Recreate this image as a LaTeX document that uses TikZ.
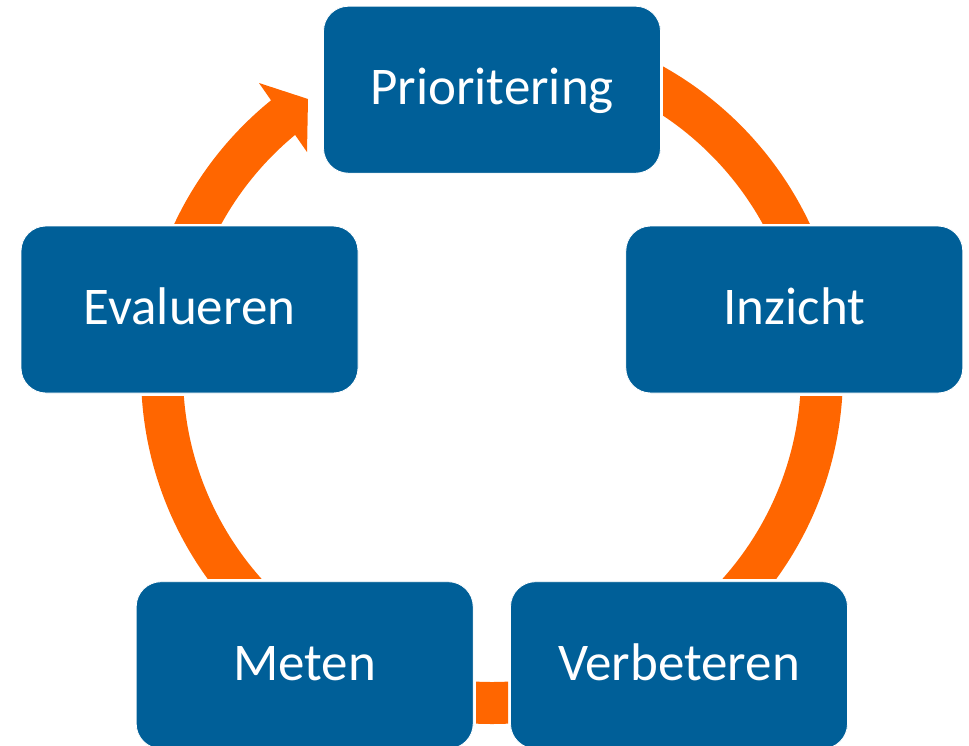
\documentclass[tikz,border=0pt]{standalone}
\usepackage{fontspec}
\setmainfont{Carlito}
\definecolor{boxblue}{RGB}{0,95,152}
\definecolor{ringorange}{RGB}{255,102,0}
\begin{document}
\begin{tikzpicture}[x=1pt,y=1pt,
  stepbox/.style={draw=white, line width=0.8pt, fill=boxblue, rounded corners=25pt,
    minimum width=337pt, minimum height=167pt, inner sep=0pt, text=white,
    font=\fontsize{53}{60}\selectfont, text height=30pt, text depth=0pt},
  ring/.style={fill=ringorange, even odd rule}]
\useasboundingbox (0,0) rectangle (969,-745);
\coordinate (c) at (492,-373);
% ring segments
\begin{scope}
  \clip (663,0) rectangle (969,-223);
  \fill[ring] (c) circle[radius=351] (c) circle[radius=309];
\end{scope}
\begin{scope}
  \clip (492,-396) rectangle (969,-578);
  \fill[ring] (c) circle[radius=351] (c) circle[radius=309];
\end{scope}
\begin{scope}
  \clip (476,-600) rectangle (508,-745);
  \fill[ring] (c) circle[radius=351] (c) circle[radius=309];
\end{scope}
\begin{scope}
  \clip (0,-396) rectangle (492,-578);
  \fill[ring] (c) circle[radius=351] (c) circle[radius=309];
\end{scope}
\begin{scope}
  \clip (0,0) rectangle (492,-223);
  \fill[ringorange] ([shift={(c)}]128.5:351) arc[start angle=128.5, end angle=170, radius=351]
    -- ([shift={(c)}]170:309) arc[start angle=170, end angle=128.5, radius=309] -- cycle;
\end{scope}
\coordinate (barbout) at (259,-83);
\coordinate (tip) at (308,-99);
\coordinate (barbin) at (307,-152);
\fill[ringorange] (barbout) -- (tip) -- (barbin) -- cycle;
% boxes
\node[stepbox] (prio) at (492,-89.7) {Prioritering};
\node[stepbox] (inz) at (794.3,-309.5) {Inzicht};
\node[stepbox] (verb) at (679,-665.2) {Verbeteren};
\node[stepbox] (met) at (304.7,-665.2) {Meten};
\node[stepbox] (eval) at (189.5,-309.5) {Evalueren};
\end{tikzpicture}
\end{document}
